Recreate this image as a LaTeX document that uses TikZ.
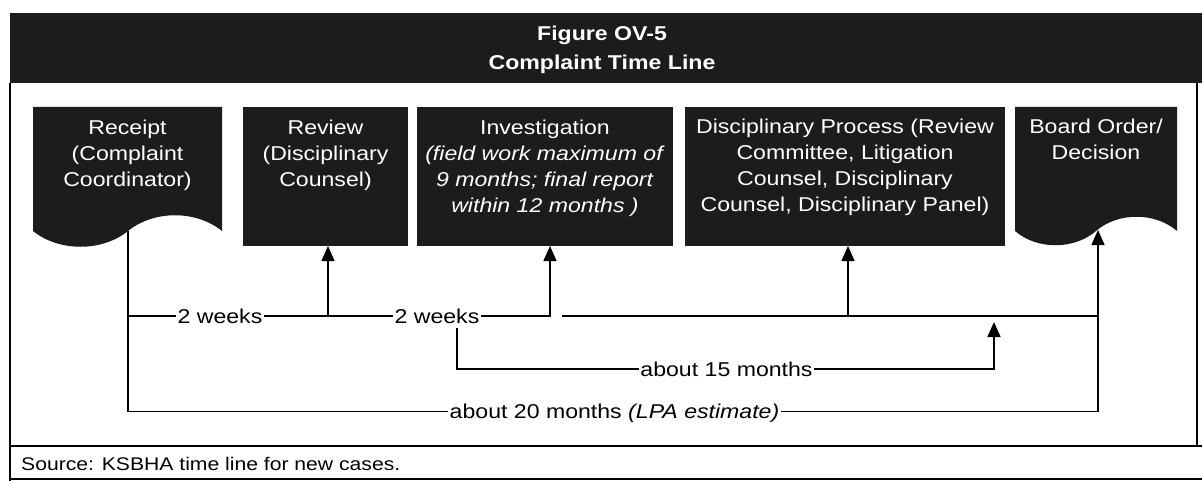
\documentclass[tikz,border=0pt]{standalone}
\usepackage{fontspec}
\setmainfont[FakeStretch=1.155]{Liberation Sans}
\usetikzlibrary{arrows.meta}
\definecolor{boxdark}{HTML}{1C1C1C}
\begin{document}
\begin{tikzpicture}[x=1pt,y=-1pt,
  darkbox/.style={draw=none, fill=boxdark, inner sep=0pt, outer sep=0pt},
  boxtext/.style={text=white, align=center, anchor=north, inner sep=0pt, font=\fontsize{20}{26}\selectfont},
  lbl/.style={inner xsep=1.5pt, inner ysep=0pt, text height=14.3pt, text depth=0pt, font=\fontsize{20}{24}\selectfont},
  conn/.style={line width=1.4pt},
  arr/.style={conn, -{Triangle[width=13pt,length=15pt]}},
  frameline/.style={line width=1.2pt}]
\useasboundingbox (0,0) rectangle (1202,481);

% title bar
\node[darkbox, minimum width=1192pt, minimum height=70pt, anchor=north west] (titlebar) at (10,13) {};
\node[text=white, align=center, inner sep=0pt, anchor=north, font=\bfseries\fontsize{20}{29}\selectfont] (title) at (602,26) {Figure OV-5\\Complaint Time Line};

% frame
\draw[frameline] (titlebar.south west) -- (10,481);
\draw[frameline] (1197,83) -- (1197,446);
\draw[frameline] (10,446) -- (1202,446);
\draw[frameline] (10,479) -- (1202,479);
\node[anchor=base west, inner sep=0pt, font=\fontsize{18.3}{20}\selectfont] (source) at (21,470.5) {Source: KSBHA time line for new cases.};

% boxes
\fill[boxdark] (33,107) -- (222,107) -- (222,231) .. controls (196,210) and (154,210) .. (128,231) .. controls (102,252) and (59,252) .. (33,231) -- cycle;
\node[boxtext] (receipt) at (127.5,120) {Receipt\\(Complaint\\Coordinator)};
\coordinate (recvb) at (128,231);

\node[darkbox, minimum width=165pt, minimum height=139pt] (review) at (325.5,176.5) {};
\node[boxtext] (reviewtxt) at (325.5,120) {Review\\(Disciplinary\\Counsel)};

\node[darkbox, minimum width=256pt, minimum height=139pt] (inv) at (545,176.5) {};
\node[boxtext] (invtxt) at (545,120) {Investigation\\\textit{(field work maximum of}\\\textit{9 months; final report}\\\textit{within 12 months )}};

\node[darkbox, minimum width=320pt, minimum height=139pt] (disc) at (845,176.5) {};
\node[boxtext] (disctxt) at (845,119) {Disciplinary Process (Review\\Committee, Litigation\\Counsel, Disciplinary\\Counsel, Disciplinary Panel)};

\fill[boxdark] (1015,107) -- (1177,107) -- (1177,231) .. controls (1155,212) and (1118,212) .. (1096,231) .. controls (1074,250) and (1037,250) .. (1015,231) -- cycle;
\node[boxtext] (boardtxt) at (1096,119) {Board Order/\\Decision};
\coordinate (boardb) at (1098,230);

% labels
\node[lbl] (w1) at (220,316) {2 weeks};
\node[lbl] (w2) at (437,316) {2 weeks};
\node[lbl] (m15) at (726.5,369) {about 15 months};
\node[lbl] (m20) at (614.5,411.5) {about 20 months \textit{(LPA estimate)}};

% connectors
\draw[conn] (recvb) |- (m20.west);
\draw[conn] (recvb |- w1.west) -- (w1.west);
\draw[conn] (w1.east) -- (w2.west);
\draw[arr] ([xshift=2.5pt]review.south |- w1.east) -- ([xshift=2.5pt]review.south);
\draw[arr] (w2.east) -| ([xshift=5pt]inv.south);
\coordinate (s1) at (562,316);
\draw[conn] (s1) -- (s1 -| boardb);
\draw[arr] ([xshift=3pt]disc.south |- s1) -- ([xshift=3pt]disc.south);
\draw[arr] (m20.east) -| (boardb);
\coordinate (c15) at (457,328);
\coordinate (t15) at (994,322);
\draw[conn] (c15) |- (m15.west);
\draw[arr] (m15.east) -| (t15);
\end{tikzpicture}
\end{document}
